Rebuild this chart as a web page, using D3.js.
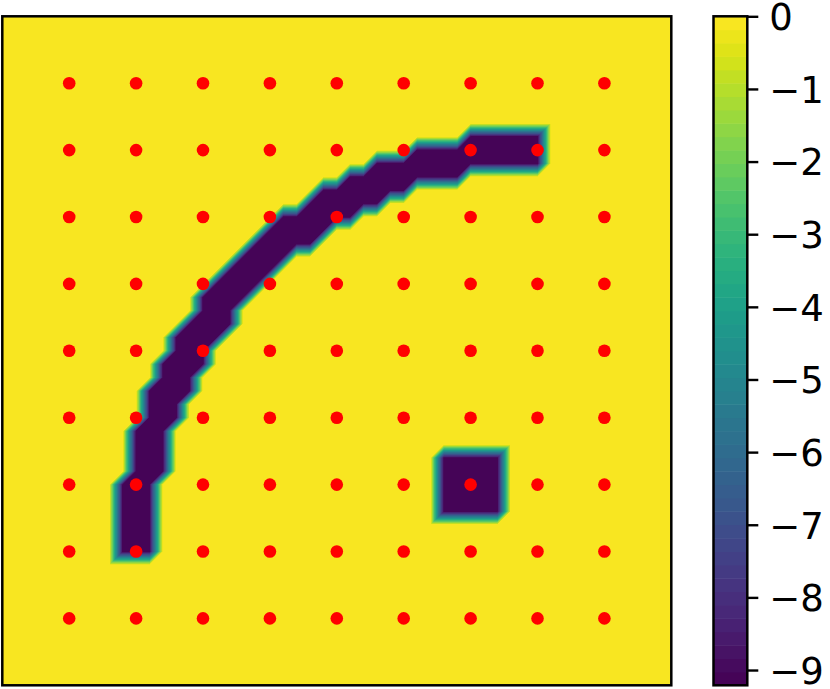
<!DOCTYPE html>
<html><head><meta charset="utf-8">
<script src="https://cdn.jsdelivr.net/npm/d3@7"></script>
<style>html,body{margin:0;padding:0;background:#fff;} svg{display:block;}</style>
</head><body>
<script>
// ---------------- data ----------------
const domain = [0, 10];          // data extent of the field (both axes)
const nodeStep = 0.2;            // spacing of the field's sample nodes
const nodeCount = 51;            // nodes per side
const fieldMin = -9.2103;        // value on obstacle nodes
const fieldMax = 0;              // value on free nodes
// obstacle nodes as runs: [row j (top = 0), first column i, last column i]
const bandRuns = [
  [9,35,40],[10,31,40],[11,28,40],[12,26,34],[13,24,30],[14,23,28],[15,21,26],[16,20,24],
  [17,19,23],[18,18,21],[19,17,20],[20,16,19],[21,15,18],[22,15,17],[23,14,17],[24,13,16],
  [25,13,15],[26,12,15],[27,12,14],[28,11,14],[29,11,13],[30,11,13],[31,10,12],[32,10,12],
  [33,10,12],[34,10,12],[35,9,11],[36,9,11],[37,9,11],[38,9,11],[39,9,11],[40,9,11]
];
const squareRuns = [[33,33,37],[34,33,37],[35,33,37],[36,33,37],[37,33,37]];
const dotX = [1,2,3,4,5,6,7,8,9];
const dotY = [1,2,3,4,5,6,7,8,9];
const cbTicks = [0,-1,-2,-3,-4,-5,-6,-7,-8,-9];
const nLevels = 50;

// ---------------- layout ----------------
const W = 830, H = 689;
const plot = {x: 2.3, y: 16.3, size: 669};
const cb = {x: 713.5, y: 16.3, w: 33.8, h: 669};

const xScale = d3.scaleLinear().domain(domain).range([plot.x, plot.x + plot.size]);
const yScale = d3.scaleLinear().domain(domain).range([plot.y, plot.y + plot.size]);
const levelColors = d3.range(nLevels).map(k => d3.interpolateViridis((k + 0.5) / nLevels));
const colorQ = d3.scaleQuantize().domain([fieldMin, fieldMax]).range(levelColors);
const cbScale = d3.scaleLinear().domain([fieldMax, fieldMin]).range([cb.y, cb.y + cb.h]);

// node grid
const grid = d3.range(nodeCount).map(() => new Float64Array(nodeCount).fill(fieldMax));
bandRuns.concat(squareRuns).forEach(([j, a, b]) => { for (let i = a; i <= b; i++) grid[j][i] = fieldMin; });

const svg = d3.select("body").append("svg").attr("width", W).attr("height", H);

// ---- field image (linear interpolation on triangulated node grid) ----
const cx0 = Math.floor(plot.x), cy0 = Math.floor(plot.y);
const cw = Math.ceil(plot.x + plot.size) - cx0, ch = Math.ceil(plot.y + plot.size) - cy0;
const canvas = document.createElement("canvas");
canvas.width = cw; canvas.height = ch;
const ctx = canvas.getContext("2d");
const img = ctx.createImageData(cw, ch);
const maxIdx = nodeCount - 2;
for (let py = 0; py < ch; py++) {
  const v = yScale.invert(cy0 + py + 0.5) / nodeStep;
  const j0 = Math.max(0, Math.min(maxIdx, Math.floor(v)));
  const fv = Math.max(0, Math.min(1, v - j0));
  for (let px = 0; px < cw; px++) {
    const u = xScale.invert(cx0 + px + 0.5) / nodeStep;
    const i0 = Math.max(0, Math.min(maxIdx, Math.floor(u)));
    const fu = Math.max(0, Math.min(1, u - i0));
    const A = grid[j0][i0], B = grid[j0][i0 + 1], C = grid[j0 + 1][i0], D = grid[j0 + 1][i0 + 1];
    let val;
    if (fu + fv <= 1) val = A + fu * (B - A) + fv * (C - A);
    else val = D + (1 - fu) * (C - D) + (1 - fv) * (B - D);
    const c = d3.rgb(colorQ(val));
    const k = (py * cw + px) * 4;
    img.data[k] = c.r; img.data[k + 1] = c.g; img.data[k + 2] = c.b; img.data[k + 3] = 255;
  }
}
ctx.putImageData(img, 0, 0);

svg.append("clipPath").attr("id", "plotClip")
  .append("rect").attr("x", plot.x).attr("y", plot.y).attr("width", plot.size).attr("height", plot.size);
svg.append("image")
  .attr("href", canvas.toDataURL())
  .attr("x", cx0).attr("y", cy0).attr("width", cw).attr("height", ch)
  .attr("clip-path", "url(#plotClip)")
  .style("image-rendering", "pixelated");

// ---- dots ----
const dots = [];
dotY.forEach(y => dotX.forEach(x => dots.push({x, y})));
svg.append("g").selectAll("circle").data(dots).join("circle")
  .attr("cx", d => xScale(d.x)).attr("cy", d => yScale(d.y))
  .attr("r", 6.3).attr("fill", "#ff0000");

// ---- frame ----
svg.append("rect").attr("x", plot.x).attr("y", plot.y).attr("width", plot.size).attr("height", plot.size)
  .attr("fill", "none").attr("stroke", "#000").attr("stroke-width", 2.5);

// ---- colorbar ----
const step = (fieldMax - fieldMin) / nLevels;
svg.append("g").selectAll("rect").data(d3.range(nLevels)).join("rect")
  .attr("x", cb.x)
  .attr("y", k => cbScale(fieldMin + (k + 1) * step))
  .attr("width", cb.w)
  .attr("height", k => cbScale(fieldMin + k * step) - cbScale(fieldMin + (k + 1) * step) + 0.5)
  .attr("fill", k => levelColors[k]);
svg.append("rect").attr("x", cb.x).attr("y", cb.y).attr("width", cb.w).attr("height", cb.h)
  .attr("fill", "none").attr("stroke", "#000").attr("stroke-width", 2.5);

const axis = d3.axisRight(cbScale).tickValues(cbTicks).tickSize(11).tickPadding(11)
  .tickFormat(d => d === 0 ? "0" : "\u2212" + Math.abs(d));
const ag = svg.append("g").attr("transform", `translate(${cb.x + cb.w},0)`).call(axis);
ag.select(".domain").remove();
ag.selectAll(".tick line").attr("stroke", "#000").attr("stroke-width", 2.4);
ag.selectAll(".tick text").attr("fill", "#000")
  .style("font-family", "'DejaVu Sans', sans-serif").style("font-size", "37px")
  .attr("dy", "0.36em");
</script>
</body></html>
